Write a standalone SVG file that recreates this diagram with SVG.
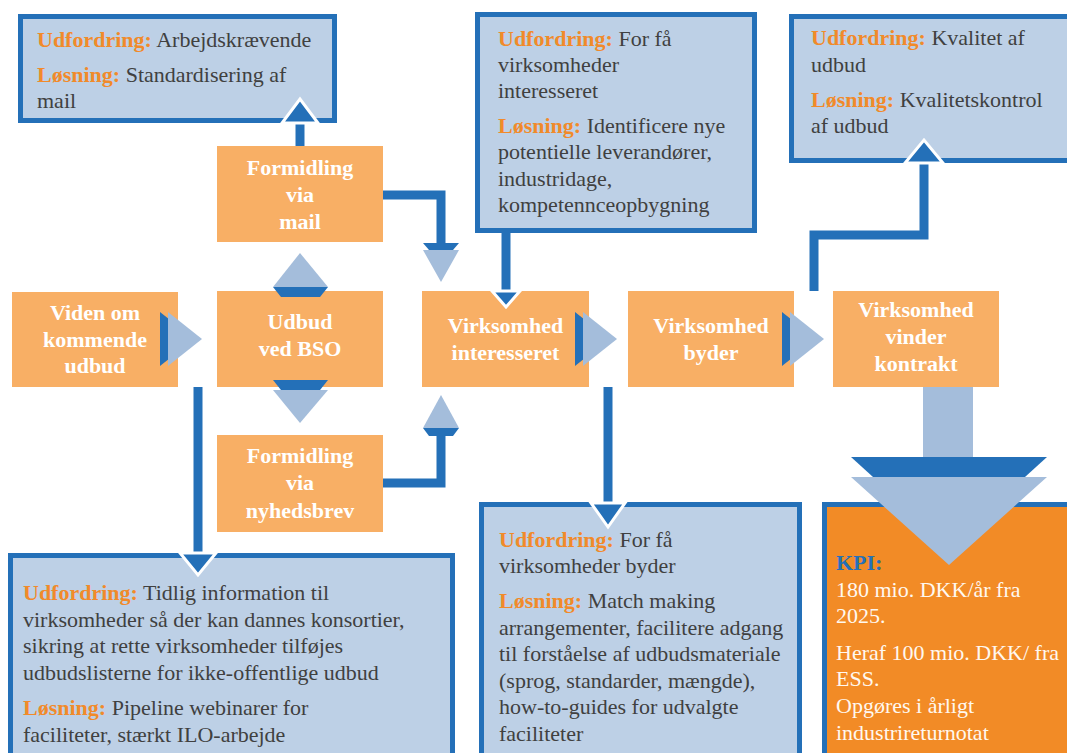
<svg xmlns="http://www.w3.org/2000/svg" width="1067" height="753" viewBox="0 0 1067 753">
<style>
.call{fill:#BDD0E6;stroke:#2470B8;stroke-width:5}
.kpi{fill:#F28B26;stroke:#2470B8;stroke-width:5}
.node{fill:#F8AF65}
.nt{font-family:"Liberation Serif",serif;font-size:22px;font-weight:bold;fill:#FFFFFF;text-anchor:middle}
.ct{font-family:"Liberation Serif",serif;font-size:22px;fill:#404040}
.kt{font-family:"Liberation Serif",serif;font-size:22px;fill:#FFF8F0}
.o{fill:#F18A2A;font-weight:bold}
.kb{fill:#2470B8;font-weight:bold}
.ln{fill:none;stroke:#2470B8;stroke-width:9}
.hd{fill:#2470B8;stroke:#FFFFFF;stroke-width:3;stroke-linejoin:miter}
.dk{fill:#2470B8}
.lt{fill:#A4BDDB}
</style>
<rect width="1067" height="753" fill="#FFFFFF"/>

<g id="callout-mail">
<rect class="call" x="20.5" y="16.5" width="314" height="104"/>
<text class="ct" x="37" y="47"><tspan class="o">Udfordring:</tspan> Arbejdskrævende</text>
<text class="ct" x="37" y="82"><tspan class="o">Løsning:</tspan> Standardisering af</text>
<text class="ct" x="37" y="108">mail</text>
</g>

<g id="callout-interesseret">
<rect class="call" x="477.5" y="14.5" width="277" height="216"/>
<text class="ct" x="498" y="46"><tspan class="o">Udfordring:</tspan> For få</text>
<text class="ct" x="498" y="72">virksomheder</text>
<text class="ct" x="498" y="98">interesseret</text>
<text class="ct" x="498" y="133"><tspan class="o">Løsning:</tspan> Identificere nye</text>
<text class="ct" x="498" y="159">potentielle leverandører,</text>
<text class="ct" x="498" y="186">industridage,</text>
<text class="ct" x="498" y="212">kompetennceopbygning</text>
</g>

<g id="callout-kvalitet">
<rect class="call" x="791.5" y="16.5" width="300" height="144"/>
<text class="ct" x="811" y="45"><tspan class="o">Udfordring:</tspan> Kvalitet af</text>
<text class="ct" x="811" y="72">udbud</text>
<text class="ct" x="811" y="107"><tspan class="o">Løsning:</tspan> Kvalitetskontrol</text>
<text class="ct" x="811" y="133">af udbud</text>
</g>

<g id="callout-tidlig">
<rect class="call" x="10.5" y="555.5" width="442" height="220"/>
<text class="ct" x="23" y="600"><tspan class="o">Udfordring:</tspan> Tidlig information til</text>
<text class="ct" x="23" y="627">virksomheder så der kan dannes konsortier,</text>
<text class="ct" x="23" y="653">sikring at rette virksomheder tilføjes</text>
<text class="ct" x="23" y="680">udbudslisterne for ikke-offentlige udbud</text>
<text class="ct" x="23" y="715"><tspan class="o">Løsning:</tspan> Pipeline webinarer for</text>
<text class="ct" x="23" y="742">faciliteter, stærkt ILO-arbejde</text>
</g>

<g id="callout-byder">
<rect class="call" x="481.5" y="504.5" width="318" height="270"/>
<text class="ct" x="499" y="547"><tspan class="o">Udfordring:</tspan> For få</text>
<text class="ct" x="499" y="573">virksomheder byder</text>
<text class="ct" x="499" y="608"><tspan class="o">Løsning:</tspan> Match making</text>
<text class="ct" x="499" y="635">arrangementer, facilitere adgang</text>
<text class="ct" x="499" y="661">til forståelse af udbudsmateriale</text>
<text class="ct" x="499" y="688">(sprog, standarder, mængde),</text>
<text class="ct" x="499" y="714">how-to-guides for udvalgte</text>
<text class="ct" x="499" y="741">faciliteter</text>
</g>

<g id="kpi">
<rect class="kpi" x="824.5" y="504.5" width="260" height="270"/>
<text class="kt" x="836" y="570"><tspan class="kb">KPI:</tspan></text>
<text class="kt" x="836" y="597">180 mio. DKK/år fra</text>
<text class="kt" x="836" y="623">2025.</text>
<text class="kt" x="836" y="660">Heraf 100 mio. DKK/ fra</text>
<text class="kt" x="836" y="686">ESS.</text>
<text class="kt" x="836" y="713">Opgøres i årligt</text>
<text class="kt" x="836" y="740">industrireturnotat</text>
</g>

<g id="node-viden">
<rect class="node" x="12" y="292" width="166" height="95"/>
<text class="nt" x="95" y="320">Viden om</text>
<text class="nt" x="95" y="347">kommende</text>
<text class="nt" x="95" y="373">udbud</text>
</g>

<g id="node-udbud">
<rect class="node" x="217" y="291" width="166" height="96"/>
<text class="nt" x="300" y="329">Udbud</text>
<text class="nt" x="300" y="356">ved BSO</text>
</g>

<g id="node-mail">
<rect class="node" x="217" y="146" width="166" height="96"/>
<text class="nt" x="300" y="175">Formidling</text>
<text class="nt" x="300" y="202">via</text>
<text class="nt" x="300" y="229">mail</text>
</g>

<g id="node-nyhedsbrev">
<rect class="node" x="217" y="435" width="166" height="97"/>
<text class="nt" x="300" y="463">Formidling</text>
<text class="nt" x="300" y="490">via</text>
<text class="nt" x="300" y="518">nyhedsbrev</text>
</g>

<g id="node-interesseret">
<rect class="node" x="422" y="291" width="167" height="96"/>
<text class="nt" x="505.5" y="333">Virksomhed</text>
<text class="nt" x="505.5" y="360">interesseret</text>
</g>

<g id="node-byder">
<rect class="node" x="628" y="291" width="166" height="96"/>
<text class="nt" x="711" y="333">Virksomhed</text>
<text class="nt" x="711" y="360">byder</text>
</g>

<g id="node-vinder">
<rect class="node" x="833" y="291" width="166" height="96"/>
<text class="nt" x="916" y="317">Virksomhed</text>
<text class="nt" x="916" y="344">vinder</text>
<text class="nt" x="916" y="371">kontrakt</text>
</g>

<g id="connectors">
<!-- flow arrows between main nodes -->
<polygon class="dk" points="160,312 194,339 160,366"/>
<polygon class="lt" points="168,312 202,339 168,366"/>
<polygon class="dk" points="575,312 609,339 575,366"/>
<polygon class="lt" points="583,312 617,339 583,366"/>
<polygon class="dk" points="782,312 816,339 782,366"/>
<polygon class="lt" points="790,312 824,339 790,366"/>

<!-- Udbud up / down to Formidling -->
<polygon class="dk" points="273,287 328,287 320,297 281,297"/>
<polygon class="lt" points="273,287 328,287 300,253"/>
<polygon class="dk" points="273,380 328,380 320,390 281,390"/>
<polygon class="lt" points="273,390 328,390 300,423"/>

<!-- Formidling via mail -> interesseret -->
<path class="ln" d="M383,195 H441 V244"/>
<polygon class="dk" points="423,243 459,243 453,250 429,250"/>
<polygon class="lt" points="423,250 459,250 441,282"/>

<!-- Formidling via nyhedsbrev -> interesseret -->
<path class="ln" d="M383,483 H441 V434"/>
<polygon class="dk" points="423,428 459,428 453,436 429,436"/>
<polygon class="lt" points="423,428 459,428 441,395"/>

<!-- mail -> callout mail -->
<path class="ln" d="M300,146 V120"/>
<polygon class="hd" points="282,123 318,123 300,99"/>

<!-- callout interesseret -> interesseret -->
<path class="ln" d="M506,233 V294"/>
<polygon class="hd" points="492,291 520,291 506,307"/>

<!-- udbud -> callout tidlig -->
<path class="ln" d="M198,387 V556"/>
<polygon class="hd" points="180,553 216,553 198,575"/>

<!-- byder -> callout byder -->
<path class="ln" d="M608,387 V506"/>
<polygon class="hd" points="591,503 625,503 608,527"/>

<!-- vinder -> callout kvalitet -->
<path class="ln" d="M814,291 V235 H924 V160"/>
<polygon class="hd" points="905,163 943,163 924,140"/>

<!-- vinder -> KPI big arrow -->
<rect class="lt" x="923" y="387" width="50" height="72"/>
<polygon class="dk" points="851,457 1047,457 1025,477 873,477"/>
<polygon class="lt" points="851,477 1047,477 949,565"/>
</g>
</svg>
